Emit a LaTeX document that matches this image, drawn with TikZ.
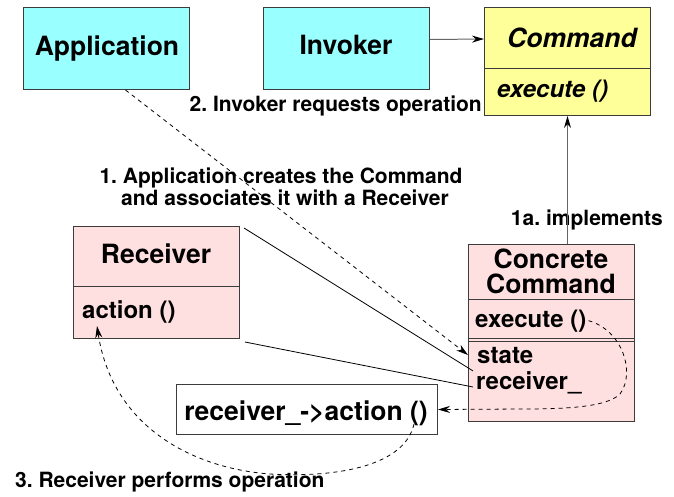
\documentclass[tikz,border=0pt]{standalone}
\usepackage{fontspec}
\setmainfont{TeX Gyre Heros}
\frenchspacing
\usetikzlibrary{arrows.meta}
\definecolor{appcyan}{RGB}{153,255,255}
\definecolor{cmdyellow}{RGB}{255,255,153}
\definecolor{rcvpink}{RGB}{255,224,224}
\definecolor{edgegray}{RGB}{60,60,60}
\begin{document}
\begin{tikzpicture}[x=1pt,y=-1pt,
  box/.style={draw=edgegray,line width=1pt,inner sep=0pt,anchor=north west},
  ttl/.style={font=\fontsize{26.5}{30}\selectfont\bfseries,inner sep=0pt,anchor=base},
  ttli/.style={font=\fontsize{26.5}{30}\selectfont\bfseries\itshape,inner sep=0pt,anchor=base},
  mem/.style={font=\fontsize{24}{28}\selectfont\bfseries,inner sep=0pt,anchor=base west},
  memi/.style={font=\fontsize{24}{28}\selectfont\bfseries\itshape,inner sep=0pt,anchor=base west},
  lbl/.style={font=\fontsize{21}{24}\selectfont\bfseries,inner sep=0pt},
  conn/.style={draw=black,line width=0.8pt},
  grayconn/.style={draw=black!60,line width=1pt},
  dsh/.style={conn,dash pattern=on 4pt off 4pt},
  tip/.style={-{Stealth[length=12pt,width=7pt,color=black]}}
]
\useasboundingbox (0,0) rectangle (674,496);

% Application
\node[box,fill=appcyan,minimum width=166pt,minimum height=82pt] (app) at (23,7) {};
\node[ttl] (appt) at (107,55) {Application};
% Invoker
\node[box,fill=appcyan,minimum width=166pt,minimum height=82pt] (inv) at (263,7) {};
\node[ttl] (invt) at (346,54) {Invoker};
% Command
\node[box,fill=cmdyellow,minimum width=166pt,minimum height=61pt] (cmdT) at (484,7) {};
\node[box,fill=cmdyellow,minimum width=166pt,minimum height=47pt] (cmdO) at (484,68) {};
\node[ttli] (cmdt) at (572,47) {Command};
\node[memi] (cmdx) at (497,97) {execute ()};

% Receiver
\node[box,fill=rcvpink,minimum width=166pt,minimum height=60pt] (rcvT) at (73,226) {};
\node[box,fill=rcvpink,minimum width=166pt,minimum height=52pt] (rcvO) at (73,286) {};
\node[ttl] (rcvt) at (156,263) {Receiver};
\node[mem] (ract) at (82,318) {action ()};

% Concrete Command
\node[box,fill=rcvpink,minimum width=166pt,minimum height=177pt] (cc) at (468,244) {};
\draw[draw=edgegray,line width=1pt] (cc.west |- 0,299) -- (cc.east |- 0,299);
\draw[draw=edgegray,line width=1pt] (cc.west |- 0,338) -- (cc.east |- 0,338);
\draw[draw=edgegray,line width=1pt] (cc.west |- 0,341) -- (cc.east |- 0,341);
\node[ttl] (cct1) at (551,268) {Concrete};
\node[ttl] (cct2) at (551,293) {Command};
\node[mem] (ccx) at (475,327) {execute ()};
\node[mem] (ccs) at (477,363) {state};
\node[mem] (ccr) at (476,389) {receiver\_};

% receiver_->action ()
\node[box,fill=white,minimum width=261pt,minimum height=50pt] (rca) at (176,384) {};
\node[ttl] (rcat) at (306,420) {receiver\_->action ()};

% Labels
\node[lbl,anchor=base east] (l2) at (482,111) {2. Invoker requests operation};
\node[lbl,anchor=base] (l1a) at (281,183) {1. Application creates the Command};
\node[lbl,anchor=base] (l1b) at (285,205) {and associates it with a Receiver};
\node[lbl,anchor=base east] (l1c) at (663,225) {1a. implements};
\node[lbl,anchor=base west] (l3) at (15,487) {3. Receiver performs operation};

% Connectors
\draw[grayconn,tip] ([yshift=9pt]inv.east) -- (cmdT.west |- 0,39);
\draw[grayconn,tip] (cc.north -| cmdO.south) -- (cmdO.south);
\draw[dsh,tip] ([xshift=19pt]app.south) -- (cc.west |- ccs.west);
\draw[conn] ([shift={(4pt,-2pt)}]rcvT.north east) -- ([xshift=-3pt]ccr.north west);
\draw[conn] ([shift={(5pt,-3pt)}]rcvO.south east) -- ([shift={(-3pt,2pt)}]ccr.base west);
\draw[dsh,tip] ([xshift=2pt]ccx.east) .. controls (622,330) and (636,372) .. (620,394)
  .. controls (606,408) and (560,409) .. (520,409) -- (rca.east);
\draw[dsh,tip] ([shift={(-24pt,11pt)}]rca.south east) .. controls (405,465) and (340,478) .. (270,474)
  .. controls (190,468) and (112,425) .. ([shift={(15pt,-3pt)}]ract.south west);
\end{tikzpicture}
\end{document}
